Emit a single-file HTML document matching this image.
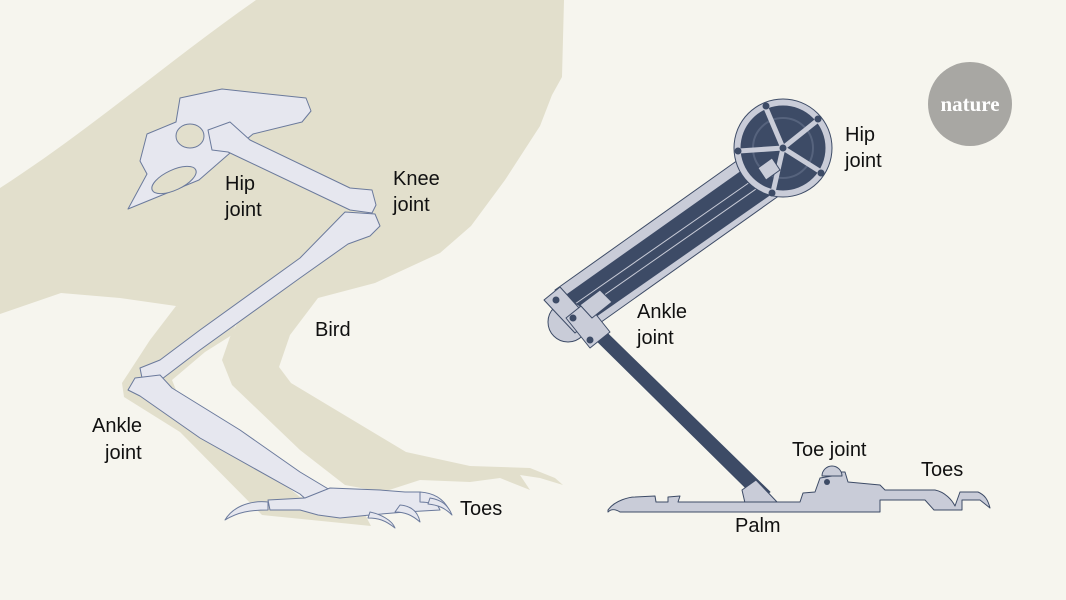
<!DOCTYPE html>
<html><head><meta charset="utf-8"><style>
html,body{margin:0;padding:0;background:#f6f5ee;}
svg{display:block}
text{font-family:"Liberation Sans",sans-serif;font-size:20px;fill:#111;}
</style></head><body>
<svg width="1066" height="600" viewBox="0 0 1066 600" xmlns="http://www.w3.org/2000/svg">
<rect width="1066" height="600" fill="#f6f5ee"/>
<!-- bird silhouette -->
<g fill="#e2dfcc">
<path d="M0,188 C90,130 170,60 256,0 L564,0 L562,77 L552,95 L540,126 L505,180 L471,226 L440,253 L375,283 L318,298 L290,335 L279,367 L291,383 L406,452 L470,466 L530,468 L555,478 L563,485 L540,478 L520,475 L530,490 L500,478 L470,482 L420,480 L383,492 L345,485 L300,450 L232,385 L222,360 L230,337 L240,318 L176,306 L120,298 L61,293 L0,314 Z"/>
<path d="M176,306 L150,340 L122,383 L124,397 L180,432 L262,515 L371,526 L360,505 L300,497 L180,400 L172,380 L205,352 L232,335 L240,312 Z"/>
</g>
<!-- bones -->
<g fill="#e6e7ef" stroke="#6b7a9c" stroke-width="1" stroke-linejoin="round">
<path d="M180,98 L222,89 L268,94 L306,98 L311,111 L302,122 L253,134 L230,153 L199,180 L128,209 L147,174 L140,161 L147,134 L176,122 Z"/>
<ellipse cx="190" cy="136" rx="14" ry="12" fill="#e2dfcc"/>
<ellipse cx="174" cy="180" rx="24" ry="10" transform="rotate(-25 174 180)" fill="#e2dfcc"/>
<path d="M208,130 L230,122 L250,140 L350,188 L372,190 L376,205 L372,213 L350,210 L228,152 L212,150 Z"/>
<path d="M345,212 L375,214 L380,226 L370,236 L348,244 L300,278 L200,350 L158,382 L142,378 L140,368 L160,360 L200,330 L300,258 Z"/>
<path d="M135,378 L160,375 L172,388 L240,430 L300,472 L330,490 L335,505 L318,510 L300,494 L200,438 L140,396 L128,390 Z"/>
<path d="M268,500 L305,498 L330,488 L380,490 L405,492 L420,492 L435,500 L440,510 L405,512 L370,515 L340,518 L318,515 L300,510 L270,510 Z"/>
<path d="M268,502 C248,500 232,508 225,520 C238,512 250,510 268,510 Z"/>
<path d="M420,492 C435,493 445,500 450,512 C440,505 430,502 420,502 Z"/>
<path d="M400,505 C412,506 418,512 420,522 C412,515 405,512 395,512 Z"/>
<path d="M430,498 C442,500 448,505 452,515 C445,508 438,505 428,504 Z"/>
<path d="M370,512 C380,514 392,520 395,528 C385,520 378,518 368,518 Z"/>
</g>
<!-- robot leg -->
<g stroke="#3d4b66" stroke-width="1" stroke-linejoin="round">
<path d="M555,290 L745,155 L780,195 L590,330 Z" fill="#c9ccd8"/>
<path d="M565,296 L750,165 L774,192 L588,322 Z" fill="#3d4b66"/>
<line x1="575" y1="304" x2="760" y2="175" stroke="#c9ccd8"/>
<line x1="580" y1="312" x2="766" y2="182" stroke="#c9ccd8"/>
<circle cx="783" cy="148" r="49" fill="#c9ccd8"/>
<circle cx="783" cy="148" r="42" fill="#3d4b66"/>
<circle cx="783" cy="148" r="30" fill="none" stroke="#56637d" stroke-width="2"/>
<g stroke="#c9ccd8" stroke-width="5">
<line x1="783" y1="148" x2="766" y2="108"/>
<line x1="783" y1="148" x2="818" y2="120"/>
<line x1="783" y1="148" x2="821" y2="172"/>
<line x1="783" y1="148" x2="773" y2="192"/>
<line x1="783" y1="148" x2="739" y2="151"/>
</g>
<g fill="#3d4b66" stroke="none">
<circle cx="766" cy="106" r="3.5"/><circle cx="818" cy="119" r="3.5"/><circle cx="821" cy="173" r="3.5"/><circle cx="772" cy="193" r="3.5"/><circle cx="738" cy="151" r="3.5"/><circle cx="783" cy="148" r="3.5"/>
</g>
<path d="M758,168 L772,158 L780,170 L766,180 Z" fill="#c9ccd8"/>
<path d="M596,340 L606,332 L770,492 L758,500 Z" fill="#3d4b66"/>
<path d="M742,490 L756,480 L778,503 L745,503 Z" fill="#c9ccd8"/>
<circle cx="568" cy="322" r="20" fill="#c9ccd8"/>
<path d="M544,300 L560,287 L590,320 L575,333 Z" fill="#c9ccd8"/>
<path d="M566,318 L586,302 L610,332 L590,348 Z" fill="#c9ccd8"/>
<path d="M580,305 L600,290 L612,302 L592,318 Z" fill="#c9ccd8"/>
<g fill="#3d4b66" stroke="none"><circle cx="556" cy="300" r="3.5"/><circle cx="573" cy="318" r="3.5"/><circle cx="590" cy="340" r="3.5"/></g>
<path d="M608,510 C615,500 630,497 635,497 L655,496 L656,502 L668,502 L668,497 L680,496 L678,502 L800,502 L803,493 L815,492 L820,478 L832,476 L835,472 L845,472 L848,482 L880,485 L885,490 L935,490 C945,492 952,500 955,506 L960,492 L978,492 C985,495 988,500 990,508 L980,500 L962,500 L962,510 L934,510 L925,500 L880,500 L880,512 L620,512 C614,508 610,510 608,512 Z" fill="#c9ccd8"/>
<circle cx="827" cy="482" r="3" fill="#3d4b66" stroke="none"/>
<path d="M822,476 A10,10 0 0 1 842,476 Z" fill="#c9ccd8"/>
</g>
<circle cx="970" cy="104" r="42" fill="#a8a7a3"/>
<text x="970" y="111" text-anchor="middle" style="font-family:'Liberation Serif',serif;font-size:21px;fill:#fff;font-weight:bold">nature</text>
<text x="225" y="190">Hip</text><text x="225" y="216">joint</text>
<text x="393" y="185">Knee</text><text x="393" y="211">joint</text>
<text x="315" y="336">Bird</text>
<text x="92" y="432">Ankle</text><text x="105" y="459">joint</text>
<text x="460" y="515">Toes</text>
<text x="845" y="141">Hip</text><text x="845" y="167">joint</text>
<text x="637" y="318">Ankle</text><text x="637" y="344">joint</text>
<text x="792" y="456">Toe joint</text>
<text x="921" y="476">Toes</text>
<text x="735" y="532">Palm</text>
</svg>
</body></html>
